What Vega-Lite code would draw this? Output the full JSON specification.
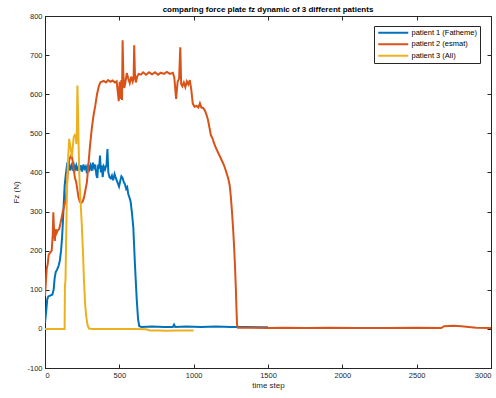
{
  "$schema": "https://vega.github.io/schema/vega-lite/v6.json",
  "width": 446,
  "height": 352,
  "autosize": {"type": "none"},
  "padding": {"left": 45, "top": 16, "right": 5, "bottom": 30},
  "title": {
    "text": "comparing force plate fz dynamic of 3 different patients",
    "font": "Liberation Sans",
    "fontSize": 8,
    "fontWeight": "bold",
    "color": "#000000",
    "anchor": "middle",
    "offset": -2
  },
  "datasets": {
    "fz": [
      {"t": 0, "fz": 15, "patient": "patient 1 (Fatheme)"},
      {"t": 8, "fz": 45, "patient": "patient 1 (Fatheme)"},
      {"t": 15, "fz": 75, "patient": "patient 1 (Fatheme)"},
      {"t": 22, "fz": 83, "patient": "patient 1 (Fatheme)"},
      {"t": 35, "fz": 85, "patient": "patient 1 (Fatheme)"},
      {"t": 50, "fz": 88, "patient": "patient 1 (Fatheme)"},
      {"t": 58, "fz": 100, "patient": "patient 1 (Fatheme)"},
      {"t": 65, "fz": 130, "patient": "patient 1 (Fatheme)"},
      {"t": 72, "fz": 145, "patient": "patient 1 (Fatheme)"},
      {"t": 82, "fz": 152, "patient": "patient 1 (Fatheme)"},
      {"t": 92, "fz": 162, "patient": "patient 1 (Fatheme)"},
      {"t": 100, "fz": 175, "patient": "patient 1 (Fatheme)"},
      {"t": 108, "fz": 200, "patient": "patient 1 (Fatheme)"},
      {"t": 115, "fz": 235, "patient": "patient 1 (Fatheme)"},
      {"t": 120, "fz": 270, "patient": "patient 1 (Fatheme)"},
      {"t": 126, "fz": 320, "patient": "patient 1 (Fatheme)"},
      {"t": 132, "fz": 365, "patient": "patient 1 (Fatheme)"},
      {"t": 140, "fz": 395, "patient": "patient 1 (Fatheme)"},
      {"t": 148, "fz": 418, "patient": "patient 1 (Fatheme)"},
      {"t": 155, "fz": 412, "patient": "patient 1 (Fatheme)"},
      {"t": 162, "fz": 420, "patient": "patient 1 (Fatheme)"},
      {"t": 170, "fz": 405, "patient": "patient 1 (Fatheme)"},
      {"t": 178, "fz": 418, "patient": "patient 1 (Fatheme)"},
      {"t": 186, "fz": 410, "patient": "patient 1 (Fatheme)"},
      {"t": 194, "fz": 420, "patient": "patient 1 (Fatheme)"},
      {"t": 202, "fz": 408, "patient": "patient 1 (Fatheme)"},
      {"t": 210, "fz": 418, "patient": "patient 1 (Fatheme)"},
      {"t": 218, "fz": 404, "patient": "patient 1 (Fatheme)"},
      {"t": 226, "fz": 415, "patient": "patient 1 (Fatheme)"},
      {"t": 234, "fz": 408, "patient": "patient 1 (Fatheme)"},
      {"t": 242, "fz": 418, "patient": "patient 1 (Fatheme)"},
      {"t": 250, "fz": 402, "patient": "patient 1 (Fatheme)"},
      {"t": 258, "fz": 420, "patient": "patient 1 (Fatheme)"},
      {"t": 266, "fz": 410, "patient": "patient 1 (Fatheme)"},
      {"t": 274, "fz": 415, "patient": "patient 1 (Fatheme)"},
      {"t": 282, "fz": 398, "patient": "patient 1 (Fatheme)"},
      {"t": 290, "fz": 420, "patient": "patient 1 (Fatheme)"},
      {"t": 298, "fz": 408, "patient": "patient 1 (Fatheme)"},
      {"t": 306, "fz": 418, "patient": "patient 1 (Fatheme)"},
      {"t": 314, "fz": 404, "patient": "patient 1 (Fatheme)"},
      {"t": 322, "fz": 425, "patient": "patient 1 (Fatheme)"},
      {"t": 330, "fz": 412, "patient": "patient 1 (Fatheme)"},
      {"t": 338, "fz": 420, "patient": "patient 1 (Fatheme)"},
      {"t": 346, "fz": 392, "patient": "patient 1 (Fatheme)"},
      {"t": 352, "fz": 386, "patient": "patient 1 (Fatheme)"},
      {"t": 358, "fz": 420, "patient": "patient 1 (Fatheme)"},
      {"t": 364, "fz": 410, "patient": "patient 1 (Fatheme)"},
      {"t": 370, "fz": 443, "patient": "patient 1 (Fatheme)"},
      {"t": 376, "fz": 400, "patient": "patient 1 (Fatheme)"},
      {"t": 382, "fz": 418, "patient": "patient 1 (Fatheme)"},
      {"t": 388, "fz": 388, "patient": "patient 1 (Fatheme)"},
      {"t": 396, "fz": 415, "patient": "patient 1 (Fatheme)"},
      {"t": 404, "fz": 408, "patient": "patient 1 (Fatheme)"},
      {"t": 414, "fz": 420, "patient": "patient 1 (Fatheme)"},
      {"t": 420, "fz": 460, "patient": "patient 1 (Fatheme)"},
      {"t": 426, "fz": 400, "patient": "patient 1 (Fatheme)"},
      {"t": 434, "fz": 388, "patient": "patient 1 (Fatheme)"},
      {"t": 442, "fz": 385, "patient": "patient 1 (Fatheme)"},
      {"t": 450, "fz": 392, "patient": "patient 1 (Fatheme)"},
      {"t": 458, "fz": 380, "patient": "patient 1 (Fatheme)"},
      {"t": 468, "fz": 396, "patient": "patient 1 (Fatheme)"},
      {"t": 476, "fz": 386, "patient": "patient 1 (Fatheme)"},
      {"t": 484, "fz": 378, "patient": "patient 1 (Fatheme)"},
      {"t": 492, "fz": 370, "patient": "patient 1 (Fatheme)"},
      {"t": 498, "fz": 364, "patient": "patient 1 (Fatheme)"},
      {"t": 506, "fz": 378, "patient": "patient 1 (Fatheme)"},
      {"t": 514, "fz": 390, "patient": "patient 1 (Fatheme)"},
      {"t": 522, "fz": 386, "patient": "patient 1 (Fatheme)"},
      {"t": 530, "fz": 375, "patient": "patient 1 (Fatheme)"},
      {"t": 538, "fz": 370, "patient": "patient 1 (Fatheme)"},
      {"t": 546, "fz": 358, "patient": "patient 1 (Fatheme)"},
      {"t": 553, "fz": 362, "patient": "patient 1 (Fatheme)"},
      {"t": 560, "fz": 345, "patient": "patient 1 (Fatheme)"},
      {"t": 568, "fz": 336, "patient": "patient 1 (Fatheme)"},
      {"t": 576, "fz": 325, "patient": "patient 1 (Fatheme)"},
      {"t": 584, "fz": 300, "patient": "patient 1 (Fatheme)"},
      {"t": 594, "fz": 260, "patient": "patient 1 (Fatheme)"},
      {"t": 605, "fz": 165, "patient": "patient 1 (Fatheme)"},
      {"t": 617, "fz": 75, "patient": "patient 1 (Fatheme)"},
      {"t": 626, "fz": 25, "patient": "patient 1 (Fatheme)"},
      {"t": 634, "fz": 7, "patient": "patient 1 (Fatheme)"},
      {"t": 650, "fz": 5, "patient": "patient 1 (Fatheme)"},
      {"t": 720, "fz": 6, "patient": "patient 1 (Fatheme)"},
      {"t": 800, "fz": 5, "patient": "patient 1 (Fatheme)"},
      {"t": 860, "fz": 5, "patient": "patient 1 (Fatheme)"},
      {"t": 868, "fz": 11, "patient": "patient 1 (Fatheme)"},
      {"t": 876, "fz": 5, "patient": "patient 1 (Fatheme)"},
      {"t": 950, "fz": 6, "patient": "patient 1 (Fatheme)"},
      {"t": 1050, "fz": 5, "patient": "patient 1 (Fatheme)"},
      {"t": 1150, "fz": 6, "patient": "patient 1 (Fatheme)"},
      {"t": 1250, "fz": 5, "patient": "patient 1 (Fatheme)"},
      {"t": 1350, "fz": 5, "patient": "patient 1 (Fatheme)"},
      {"t": 1450, "fz": 4, "patient": "patient 1 (Fatheme)"},
      {"t": 1500, "fz": 4, "patient": "patient 1 (Fatheme)"},

      {"t": 0, "fz": 85, "patient": "patient 2 (esmat)"},
      {"t": 6, "fz": 120, "patient": "patient 2 (esmat)"},
      {"t": 12, "fz": 155, "patient": "patient 2 (esmat)"},
      {"t": 18, "fz": 165, "patient": "patient 2 (esmat)"},
      {"t": 25, "fz": 190, "patient": "patient 2 (esmat)"},
      {"t": 35, "fz": 195, "patient": "patient 2 (esmat)"},
      {"t": 45, "fz": 200, "patient": "patient 2 (esmat)"},
      {"t": 52, "fz": 240, "patient": "patient 2 (esmat)"},
      {"t": 56, "fz": 298, "patient": "patient 2 (esmat)"},
      {"t": 60, "fz": 260, "patient": "patient 2 (esmat)"},
      {"t": 66, "fz": 225, "patient": "patient 2 (esmat)"},
      {"t": 72, "fz": 255, "patient": "patient 2 (esmat)"},
      {"t": 78, "fz": 245, "patient": "patient 2 (esmat)"},
      {"t": 86, "fz": 252, "patient": "patient 2 (esmat)"},
      {"t": 95, "fz": 255, "patient": "patient 2 (esmat)"},
      {"t": 104, "fz": 270, "patient": "patient 2 (esmat)"},
      {"t": 112, "fz": 285, "patient": "patient 2 (esmat)"},
      {"t": 120, "fz": 300, "patient": "patient 2 (esmat)"},
      {"t": 130, "fz": 315, "patient": "patient 2 (esmat)"},
      {"t": 140, "fz": 330, "patient": "patient 2 (esmat)"},
      {"t": 148, "fz": 370, "patient": "patient 2 (esmat)"},
      {"t": 155, "fz": 410, "patient": "patient 2 (esmat)"},
      {"t": 162, "fz": 430, "patient": "patient 2 (esmat)"},
      {"t": 170, "fz": 440, "patient": "patient 2 (esmat)"},
      {"t": 178, "fz": 445, "patient": "patient 2 (esmat)"},
      {"t": 186, "fz": 430, "patient": "patient 2 (esmat)"},
      {"t": 194, "fz": 405, "patient": "patient 2 (esmat)"},
      {"t": 202, "fz": 385, "patient": "patient 2 (esmat)"},
      {"t": 210, "fz": 375, "patient": "patient 2 (esmat)"},
      {"t": 218, "fz": 355, "patient": "patient 2 (esmat)"},
      {"t": 226, "fz": 335, "patient": "patient 2 (esmat)"},
      {"t": 234, "fz": 325, "patient": "patient 2 (esmat)"},
      {"t": 242, "fz": 322, "patient": "patient 2 (esmat)"},
      {"t": 252, "fz": 325, "patient": "patient 2 (esmat)"},
      {"t": 262, "fz": 335, "patient": "patient 2 (esmat)"},
      {"t": 272, "fz": 355, "patient": "patient 2 (esmat)"},
      {"t": 282, "fz": 375, "patient": "patient 2 (esmat)"},
      {"t": 292, "fz": 420, "patient": "patient 2 (esmat)"},
      {"t": 302, "fz": 465, "patient": "patient 2 (esmat)"},
      {"t": 314, "fz": 510, "patient": "patient 2 (esmat)"},
      {"t": 326, "fz": 545, "patient": "patient 2 (esmat)"},
      {"t": 338, "fz": 570, "patient": "patient 2 (esmat)"},
      {"t": 350, "fz": 600, "patient": "patient 2 (esmat)"},
      {"t": 362, "fz": 620, "patient": "patient 2 (esmat)"},
      {"t": 372, "fz": 630, "patient": "patient 2 (esmat)"},
      {"t": 382, "fz": 632, "patient": "patient 2 (esmat)"},
      {"t": 395, "fz": 634, "patient": "patient 2 (esmat)"},
      {"t": 410, "fz": 630, "patient": "patient 2 (esmat)"},
      {"t": 425, "fz": 636, "patient": "patient 2 (esmat)"},
      {"t": 440, "fz": 632, "patient": "patient 2 (esmat)"},
      {"t": 455, "fz": 635, "patient": "patient 2 (esmat)"},
      {"t": 470, "fz": 630, "patient": "patient 2 (esmat)"},
      {"t": 482, "fz": 633, "patient": "patient 2 (esmat)"},
      {"t": 490, "fz": 605, "patient": "patient 2 (esmat)"},
      {"t": 496, "fz": 582, "patient": "patient 2 (esmat)"},
      {"t": 502, "fz": 632, "patient": "patient 2 (esmat)"},
      {"t": 508, "fz": 588, "patient": "patient 2 (esmat)"},
      {"t": 514, "fz": 636, "patient": "patient 2 (esmat)"},
      {"t": 518, "fz": 585, "patient": "patient 2 (esmat)"},
      {"t": 522, "fz": 738, "patient": "patient 2 (esmat)"},
      {"t": 527, "fz": 650, "patient": "patient 2 (esmat)"},
      {"t": 533, "fz": 616, "patient": "patient 2 (esmat)"},
      {"t": 540, "fz": 628, "patient": "patient 2 (esmat)"},
      {"t": 550, "fz": 654, "patient": "patient 2 (esmat)"},
      {"t": 560, "fz": 640, "patient": "patient 2 (esmat)"},
      {"t": 570, "fz": 628, "patient": "patient 2 (esmat)"},
      {"t": 580, "fz": 645, "patient": "patient 2 (esmat)"},
      {"t": 590, "fz": 632, "patient": "patient 2 (esmat)"},
      {"t": 596, "fz": 640, "patient": "patient 2 (esmat)"},
      {"t": 600, "fz": 725, "patient": "patient 2 (esmat)"},
      {"t": 605, "fz": 650, "patient": "patient 2 (esmat)"},
      {"t": 611, "fz": 630, "patient": "patient 2 (esmat)"},
      {"t": 620, "fz": 645, "patient": "patient 2 (esmat)"},
      {"t": 630, "fz": 652, "patient": "patient 2 (esmat)"},
      {"t": 645, "fz": 650, "patient": "patient 2 (esmat)"},
      {"t": 660, "fz": 656, "patient": "patient 2 (esmat)"},
      {"t": 680, "fz": 650, "patient": "patient 2 (esmat)"},
      {"t": 700, "fz": 656, "patient": "patient 2 (esmat)"},
      {"t": 720, "fz": 651, "patient": "patient 2 (esmat)"},
      {"t": 740, "fz": 656, "patient": "patient 2 (esmat)"},
      {"t": 760, "fz": 650, "patient": "patient 2 (esmat)"},
      {"t": 780, "fz": 655, "patient": "patient 2 (esmat)"},
      {"t": 800, "fz": 652, "patient": "patient 2 (esmat)"},
      {"t": 820, "fz": 657, "patient": "patient 2 (esmat)"},
      {"t": 840, "fz": 652, "patient": "patient 2 (esmat)"},
      {"t": 860, "fz": 655, "patient": "patient 2 (esmat)"},
      {"t": 870, "fz": 642, "patient": "patient 2 (esmat)"},
      {"t": 882, "fz": 588, "patient": "patient 2 (esmat)"},
      {"t": 892, "fz": 632, "patient": "patient 2 (esmat)"},
      {"t": 902, "fz": 640, "patient": "patient 2 (esmat)"},
      {"t": 910, "fz": 720, "patient": "patient 2 (esmat)"},
      {"t": 916, "fz": 626, "patient": "patient 2 (esmat)"},
      {"t": 924, "fz": 620, "patient": "patient 2 (esmat)"},
      {"t": 934, "fz": 630, "patient": "patient 2 (esmat)"},
      {"t": 944, "fz": 618, "patient": "patient 2 (esmat)"},
      {"t": 954, "fz": 633, "patient": "patient 2 (esmat)"},
      {"t": 964, "fz": 625, "patient": "patient 2 (esmat)"},
      {"t": 974, "fz": 636, "patient": "patient 2 (esmat)"},
      {"t": 984, "fz": 612, "patient": "patient 2 (esmat)"},
      {"t": 994, "fz": 576, "patient": "patient 2 (esmat)"},
      {"t": 1006, "fz": 568, "patient": "patient 2 (esmat)"},
      {"t": 1020, "fz": 570, "patient": "patient 2 (esmat)"},
      {"t": 1032, "fz": 566, "patient": "patient 2 (esmat)"},
      {"t": 1042, "fz": 577, "patient": "patient 2 (esmat)"},
      {"t": 1052, "fz": 566, "patient": "patient 2 (esmat)"},
      {"t": 1064, "fz": 565, "patient": "patient 2 (esmat)"},
      {"t": 1076, "fz": 558, "patient": "patient 2 (esmat)"},
      {"t": 1086, "fz": 548, "patient": "patient 2 (esmat)"},
      {"t": 1096, "fz": 535, "patient": "patient 2 (esmat)"},
      {"t": 1106, "fz": 515, "patient": "patient 2 (esmat)"},
      {"t": 1116, "fz": 495, "patient": "patient 2 (esmat)"},
      {"t": 1126, "fz": 488, "patient": "patient 2 (esmat)"},
      {"t": 1136, "fz": 476, "patient": "patient 2 (esmat)"},
      {"t": 1146, "fz": 466, "patient": "patient 2 (esmat)"},
      {"t": 1156, "fz": 458, "patient": "patient 2 (esmat)"},
      {"t": 1166, "fz": 449, "patient": "patient 2 (esmat)"},
      {"t": 1178, "fz": 440, "patient": "patient 2 (esmat)"},
      {"t": 1190, "fz": 430, "patient": "patient 2 (esmat)"},
      {"t": 1200, "fz": 422, "patient": "patient 2 (esmat)"},
      {"t": 1210, "fz": 412, "patient": "patient 2 (esmat)"},
      {"t": 1220, "fz": 400, "patient": "patient 2 (esmat)"},
      {"t": 1232, "fz": 385, "patient": "patient 2 (esmat)"},
      {"t": 1242, "fz": 368, "patient": "patient 2 (esmat)"},
      {"t": 1250, "fz": 338, "patient": "patient 2 (esmat)"},
      {"t": 1258, "fz": 298, "patient": "patient 2 (esmat)"},
      {"t": 1265, "fz": 258, "patient": "patient 2 (esmat)"},
      {"t": 1272, "fz": 210, "patient": "patient 2 (esmat)"},
      {"t": 1278, "fz": 160, "patient": "patient 2 (esmat)"},
      {"t": 1284, "fz": 100, "patient": "patient 2 (esmat)"},
      {"t": 1288, "fz": 50, "patient": "patient 2 (esmat)"},
      {"t": 1292, "fz": 10, "patient": "patient 2 (esmat)"},
      {"t": 1298, "fz": 3, "patient": "patient 2 (esmat)"},
      {"t": 1400, "fz": 3, "patient": "patient 2 (esmat)"},
      {"t": 1500, "fz": 2, "patient": "patient 2 (esmat)"},
      {"t": 1600, "fz": 3, "patient": "patient 2 (esmat)"},
      {"t": 1760, "fz": 2, "patient": "patient 2 (esmat)"},
      {"t": 1900, "fz": 3, "patient": "patient 2 (esmat)"},
      {"t": 2100, "fz": 2, "patient": "patient 2 (esmat)"},
      {"t": 2300, "fz": 2, "patient": "patient 2 (esmat)"},
      {"t": 2500, "fz": 3, "patient": "patient 2 (esmat)"},
      {"t": 2665, "fz": 2, "patient": "patient 2 (esmat)"},
      {"t": 2685, "fz": 7, "patient": "patient 2 (esmat)"},
      {"t": 2750, "fz": 8, "patient": "patient 2 (esmat)"},
      {"t": 2800, "fz": 7, "patient": "patient 2 (esmat)"},
      {"t": 2850, "fz": 5, "patient": "patient 2 (esmat)"},
      {"t": 2900, "fz": 3, "patient": "patient 2 (esmat)"},
      {"t": 3000, "fz": 2, "patient": "patient 2 (esmat)"},

      {"t": 0, "fz": 0, "patient": "patient 3 (Ali)"},
      {"t": 100, "fz": 0, "patient": "patient 3 (Ali)"},
      {"t": 132, "fz": 0, "patient": "patient 3 (Ali)"},
      {"t": 134, "fz": 110, "patient": "patient 3 (Ali)"},
      {"t": 138, "fz": 125, "patient": "patient 3 (Ali)"},
      {"t": 143, "fz": 250, "patient": "patient 3 (Ali)"},
      {"t": 149, "fz": 375, "patient": "patient 3 (Ali)"},
      {"t": 156, "fz": 440, "patient": "patient 3 (Ali)"},
      {"t": 163, "fz": 486, "patient": "patient 3 (Ali)"},
      {"t": 169, "fz": 470, "patient": "patient 3 (Ali)"},
      {"t": 175, "fz": 455, "patient": "patient 3 (Ali)"},
      {"t": 181, "fz": 440, "patient": "patient 3 (Ali)"},
      {"t": 187, "fz": 466, "patient": "patient 3 (Ali)"},
      {"t": 193, "fz": 490, "patient": "patient 3 (Ali)"},
      {"t": 200, "fz": 496, "patient": "patient 3 (Ali)"},
      {"t": 206, "fz": 494, "patient": "patient 3 (Ali)"},
      {"t": 211, "fz": 472, "patient": "patient 3 (Ali)"},
      {"t": 215, "fz": 520, "patient": "patient 3 (Ali)"},
      {"t": 218, "fz": 622, "patient": "patient 3 (Ali)"},
      {"t": 222, "fz": 560, "patient": "patient 3 (Ali)"},
      {"t": 226, "fz": 470, "patient": "patient 3 (Ali)"},
      {"t": 232, "fz": 380, "patient": "patient 3 (Ali)"},
      {"t": 240, "fz": 320, "patient": "patient 3 (Ali)"},
      {"t": 248, "fz": 262, "patient": "patient 3 (Ali)"},
      {"t": 255, "fz": 200, "patient": "patient 3 (Ali)"},
      {"t": 262, "fz": 125, "patient": "patient 3 (Ali)"},
      {"t": 270, "fz": 62, "patient": "patient 3 (Ali)"},
      {"t": 278, "fz": 30, "patient": "patient 3 (Ali)"},
      {"t": 286, "fz": 10, "patient": "patient 3 (Ali)"},
      {"t": 296, "fz": 1, "patient": "patient 3 (Ali)"},
      {"t": 320, "fz": 0, "patient": "patient 3 (Ali)"},
      {"t": 400, "fz": 0, "patient": "patient 3 (Ali)"},
      {"t": 500, "fz": 0, "patient": "patient 3 (Ali)"},
      {"t": 600, "fz": 0, "patient": "patient 3 (Ali)"},
      {"t": 680, "fz": -1, "patient": "patient 3 (Ali)"},
      {"t": 705, "fz": -4, "patient": "patient 3 (Ali)"},
      {"t": 760, "fz": -4, "patient": "patient 3 (Ali)"},
      {"t": 820, "fz": -5, "patient": "patient 3 (Ali)"},
      {"t": 900, "fz": -4, "patient": "patient 3 (Ali)"},
      {"t": 1000, "fz": -4, "patient": "patient 3 (Ali)"}
    ]
  },
  "data": {"name": "fz"},
  "layer": [
    {
      "mark": {"type": "line", "strokeWidth": 2, "clip": true},
      "encoding": {
        "x": {
          "field": "t",
          "type": "quantitative",
          "scale": {"domain": [0, 3000], "nice": false, "zero": false},
          "axis": {
            "values": [0, 500, 1000, 1500, 2000, 2500, 3000],
            "labelExpr": "toString(datum.value)",
            "title": "time step",
            "titlePadding": 3
          }
        },
        "y": {
          "field": "fz",
          "type": "quantitative",
          "scale": {"domain": [-100, 800], "nice": false, "zero": false},
          "axis": {
            "values": [-100, 0, 100, 200, 300, 400, 500, 600, 700, 800],
            "labelExpr": "toString(datum.value)",
            "title": "Fz (N)",
            "titlePadding": 6
          }
        },
        "color": {
          "field": "patient",
          "type": "nominal",
          "scale": {
            "domain": ["patient 1 (Fatheme)", "patient 2 (esmat)", "patient 3 (Ali)"],
            "range": ["#0072BD", "#D95319", "#EDB120"]
          },
          "legend": {
            "title": null,
            "orient": "none",
            "legendX": 329,
            "legendY": 10,
            "symbolType": "M-1,0H11",
            "symbolSize": 25,
            "symbolStrokeWidth": 2,
            "labelFont": "Liberation Sans",
            "labelFontSize": 7.5,
            "labelColor": "#000000",
            "labelOffset": 27,
            "strokeColor": "#262626",
            "fillColor": "#ffffff",
            "padding": 3,
            "rowPadding": 2.5
          }
        }
      }
    },
    {
      "mark": {"type": "point", "opacity": 0},
      "encoding": {
        "x": {
          "field": "t",
          "type": "quantitative",
          "axis": {"orient": "top", "values": [0, 500, 1000, 1500, 2000, 2500, 3000], "labels": false, "title": null}
        },
        "y": {
          "field": "fz",
          "type": "quantitative",
          "axis": {"orient": "right", "values": [-100, 0, 100, 200, 300, 400, 500, 600, 700, 800], "labels": false, "title": null}
        }
      }
    }
  ],
  "resolve": {"axis": {"x": "independent", "y": "independent"}},
  "config": {
    "view": {"stroke": "#262626", "strokeWidth": 1},
    "axis": {
      "grid": false,
      "domainColor": "#262626",
      "tickColor": "#262626",
      "tickSize": -4,
      "labelPadding": 7,
      "labelColor": "#262626",
      "titleColor": "#262626",
      "labelFont": "Liberation Sans",
      "titleFont": "Liberation Sans",
      "labelFontSize": 7.5,
      "titleFontSize": 8,
      "titleFontWeight": "normal"
    }
  }
}
